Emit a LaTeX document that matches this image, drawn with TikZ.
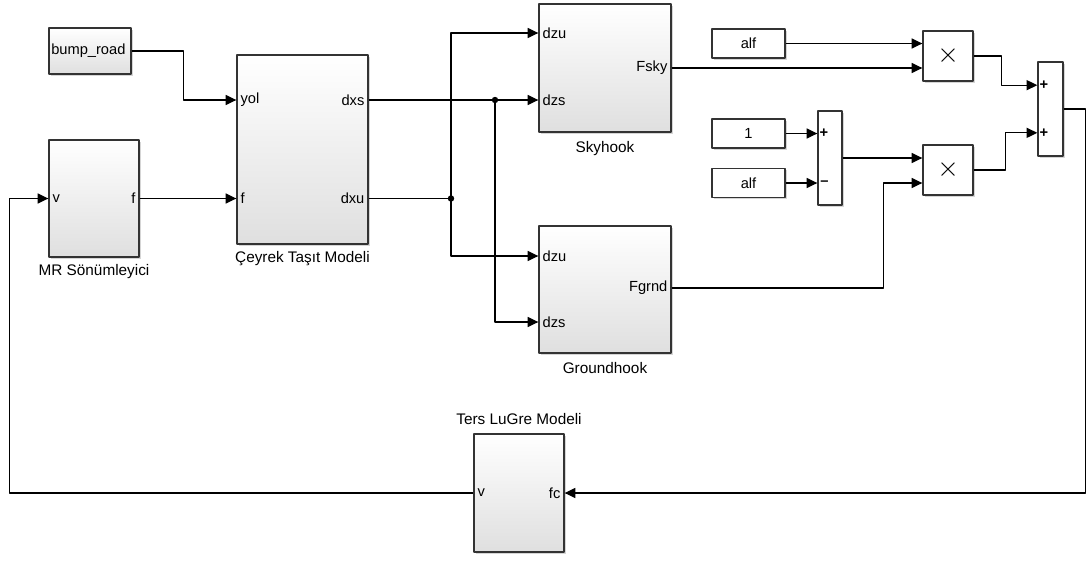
\documentclass[tikz,border=0pt]{standalone}
\usepackage{fontspec}
\setmainfont{Liberation Sans}
\usetikzlibrary{arrows.meta,shadows,positioning,calc}
\begin{document}
\begin{tikzpicture}[x=0.75pt,y=-0.75pt,line join=round,
		shd/.style={drop shadow={shadow xshift=1.3pt,shadow yshift=-1.3pt,fill=gray!60,opacity=0.55}},
		blk/.style={draw=black!80,line width=1pt,shading=axis,top color=white,bottom color=gray!25,shd,inner sep=0pt},
		cst/.style={draw=black!80,line width=1pt,fill=white,shd,inner sep=0pt,font=\fontsize{11}{13}\selectfont},
		wire/.style={line width=0.95pt,-{Triangle[length=8pt,width=7.5pt]}},
		seg/.style={line width=0.95pt},
		port/.style={inner xsep=3pt,inner ysep=1pt,font=\fontsize{11}{13}\selectfont},
		capt/.style={inner sep=0pt,font=\fontsize{11.5}{13}\selectfont}]
	\useasboundingbox (0,0) rectangle (1089,561);
	% blocks
	\node[blk,minimum width=61.5pt,minimum height=34.5pt] (bump) at (90,51) {};
	\node[port,anchor=west,inner xsep=2pt] at (bump.west) {bump\_road};
	\node[blk,minimum width=67.5pt,minimum height=87.75pt] (mr) at (94,198.5) {};
	\node[blk,minimum width=98.25pt,minimum height=141.75pt] (qc) at (302.5,149.5) {};
	\node[blk,minimum width=99pt,minimum height=96pt] (sky) at (605,68) {};
	\node[blk,minimum width=99pt,minimum height=95.25pt] (gnd) at (605,289.5) {};
	\node[blk,minimum width=67.5pt,minimum height=88.5pt] (lugre) at (519,493) {};
	\node[capt,below=5pt of mr] {MR Sönümleyici};
	\node[capt,below=5pt of qc] {Çeyrek  Taşıt Modeli};
	\node[capt,below=6pt of sky] {Skyhook};
	\node[capt,below=6pt of gnd] {Groundhook};
	\node[capt,above=6pt of lugre] {Ters  LuGre Modeli};
	% constants, sums, products
	\node[cst,minimum width=54.75pt,minimum height=21.75pt] (alfA) at (748.5,43.5) {alf};
	\node[cst,minimum width=54.75pt,minimum height=21.75pt] (one) at (748.5,133.5) {1};
	\node[cst,minimum width=54.75pt,minimum height=21.75pt] (alfB) at (748.5,183) {alf};
	\node[cst,minimum width=18pt,minimum height=70.5pt] (sumA) at (830,158) {};
	\node[cst,minimum width=18.75pt,minimum height=70.5pt] (sumB) at (1050.5,109) {};
	\node[cst,minimum width=37.5pt,minimum height=37.5pt,font=\fontsize{20}{20}\selectfont] (prodA) at (948,56) {$\times$};
	\node[cst,minimum width=37.5pt,minimum height=37.5pt,font=\fontsize{20}{20}\selectfont] (prodB) at (948,170) {$\times$};
	% ports
	\coordinate (qc-yol) at (qc.west |- 0,100);
	\coordinate (qc-f) at (qc.west |- mr.east);
	\coordinate (qc-dxs) at (qc.east |- 0,100);
	\coordinate (qc-dxu) at (qc.east |- mr.east);
	\coordinate (sky-dzu) at (sky.west |- 0,33);
	\coordinate (sky-dzs) at (sky.west |- 0,100);
	\coordinate (sky-fsky) at (sky.east |- 0,68);
	\coordinate (gnd-dzu) at (gnd.west |- 0,256);
	\coordinate (gnd-dzs) at (gnd.west |- 0,322);
	\coordinate (gnd-fgrnd) at (gnd.east |- 0,288);
	\coordinate (pA1) at (prodA.west |- alfA.east);
	\coordinate (pA2) at (prodA.west |- sky-fsky);
	\coordinate (pB1) at (prodB.west |- sumA.east);
	\coordinate (pB2) at (prodB.west |- alfB.east);
	\coordinate (sA1) at (sumA.west |- one.east);
	\coordinate (sA2) at (sumA.west |- alfB.east);
	\coordinate (sB1) at ($(sumB.north west)!0.25!(sumB.south west)$);
	\coordinate (sB2) at ($(sumB.north west)!0.75!(sumB.south west)$);
	\coordinate (bs) at (qc-dxs -| 495,0);
	\coordinate (bu) at (qc-dxu -| 451,0);
	% port labels
	\node[port,anchor=west] at (mr.west) {v};
	\node[port,anchor=east] at (mr.east) {f};
	\node[port,anchor=west] at (qc-yol) {yol};
	\node[port,anchor=west] at (qc-f) {f};
	\node[port,anchor=east] at (qc-dxs) {dxs};
	\node[port,anchor=east] at (qc-dxu) {dxu};
	\node[port,anchor=west] at (sky-dzu) {dzu};
	\node[port,anchor=west] at (sky-dzs) {dzs};
	\node[port,anchor=east] at (sky-fsky) {Fsky};
	\node[port,anchor=west] at (gnd-dzu) {dzu};
	\node[port,anchor=west] at (gnd-dzs) {dzs};
	\node[port,anchor=east] at (gnd-fgrnd) {Fgrnd};
	\node[port,anchor=west] at (lugre.west) {v};
	\node[port,anchor=east] at (lugre.east) {fc};
	\node[port,anchor=west,inner xsep=1.5pt] at (sA1) {\textbf{+}};
	\node[port,anchor=west,inner xsep=2pt] at (sA2) {\textbf{\textendash}};
	\node[port,anchor=west,inner xsep=1.5pt] at (sB1) {\textbf{+}};
	\node[port,anchor=west,inner xsep=1.5pt] at (sB2) {\textbf{+}};
	% connectors
	\draw[wire] (bump.east) -- ++(52,0) |- (qc-yol);
	\draw[wire] (mr.east) -- (qc-f);
	\draw[wire] (qc-dxs) -- (sky-dzs);
	\draw[wire] (bs) |- (gnd-dzs);
	\draw[seg] (qc-dxu) -- (bu);
	\draw[wire] (bu) |- (sky-dzu);
	\draw[wire] (bu) |- (gnd-dzu);
	\fill (bs) circle (2.4pt);
	\fill (bu) circle (2.4pt);
	\draw[wire] (alfA.east) -- (pA1);
	\draw[wire] (sky-fsky) -- (pA2);
	\draw[wire] (one.east) -- (sA1);
	\draw[wire] (alfB.east) -- (sA2);
	\draw[wire] (sumA.east) -- (pB1);
	\draw[wire] (gnd-fgrnd) -- ++(212,0) |- (pB2);
	\draw[wire] (prodA.east) -- ++(28,0) |- (sB1);
	\draw[wire] (prodB.east) -- ++(32,0) |- (sB2);
	\draw[wire] (sumB.east) -- ++(22,0) |- (lugre.east);
	\draw[wire] (lugre.west) -- ++(-464,0) |- (mr.west);
\end{tikzpicture}
\end{document}
